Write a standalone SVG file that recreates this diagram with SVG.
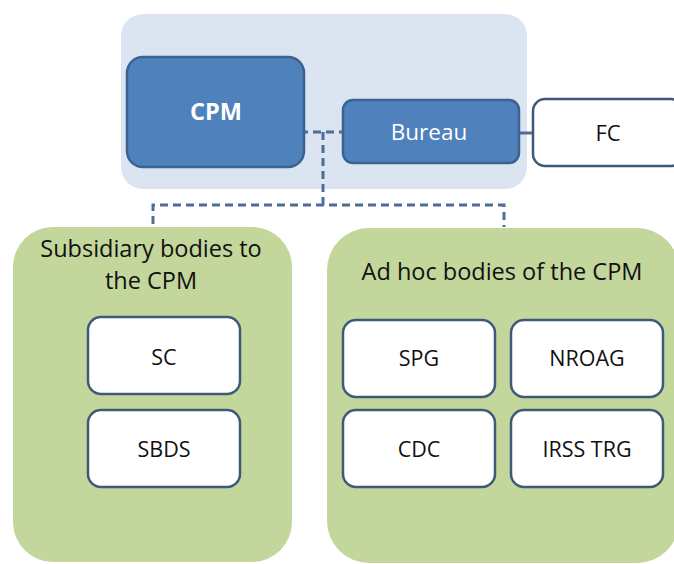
<svg xmlns="http://www.w3.org/2000/svg" width="674" height="564" viewBox="0 0 674 564">
<style>
  text { font-family: "Open Sans", "Liberation Sans", Arial, sans-serif; text-anchor: middle; }
  .blue { fill: #4f81bd; stroke: #3b6290; stroke-width: 2.5; }
  .white { fill: #ffffff; stroke: #3f5a78; stroke-width: 2.5; }
  .green { fill: #c3d69b; }
  .dash { fill: none; stroke: #4d6e96; stroke-width: 3; stroke-dasharray: 8 5; }
  .solid { fill: none; stroke: #4d6e96; stroke-width: 3; }
  .wt { fill: #ffffff; }
  .bt { fill: #111111; }
  .lbl { font-size: 21.5px; }
  .ttl { font-size: 23.5px; }
</style>
<rect width="674" height="564" fill="#ffffff"/>
<g id="container">
  <rect x="121" y="14" width="406" height="175" rx="22" fill="#dbe5f1"/>
</g>
<g id="subsidiary">
  <rect class="green" x="13" y="227" width="279" height="335" rx="40"/>
  <text class="bt ttl" x="151" y="257">Subsidiary bodies to</text>
  <text class="bt ttl" x="151" y="289">the CPM</text>
</g>
<g id="adhoc">
  <rect class="green" x="327" y="228" width="352" height="335" rx="42"/>
  <text class="bt ttl" x="502" y="280">Ad hoc bodies of the CPM</text>
</g>
<g id="connectors">
  <path class="dash" d="M300,132 H343"/>
  <path class="dash" d="M323,132 V205"/>
  <path class="dash" d="M153,224 V205 H504 V227"/>
  <path class="solid" d="M519,133 H533"/>
</g>
<g id="cpm">
  <rect class="blue" x="127" y="57" width="177" height="110" rx="16"/>
  <text class="wt" x="216" y="120" font-size="23.5" font-weight="bold">CPM</text>
</g>
<g id="bureau">
  <rect class="blue" x="343" y="100" width="176" height="63" rx="10"/>
  <text class="wt" x="429" y="140" font-size="22.5">Bureau</text>
</g>
<g id="fc">
  <rect class="white" x="533" y="99" width="150" height="67" rx="12"/>
  <text class="bt" x="608" y="141" font-size="22">FC</text>
</g>
<g id="sc">
  <rect class="white" x="88" y="317" width="152" height="77" rx="13"/>
  <text class="bt lbl" x="164" y="365">SC</text>
</g>
<g id="sbds">
  <rect class="white" x="88" y="410" width="152" height="77" rx="13"/>
  <text class="bt lbl" x="164" y="457">SBDS</text>
</g>
<g id="spg">
  <rect class="white" x="343" y="320" width="152" height="77" rx="13"/>
  <text class="bt lbl" x="419" y="366">SPG</text>
</g>
<g id="nroag">
  <rect class="white" x="511" y="320" width="152" height="77" rx="13"/>
  <text class="bt lbl" x="587" y="366">NROAG</text>
</g>
<g id="cdc">
  <rect class="white" x="343" y="410" width="152" height="77" rx="13"/>
  <text class="bt lbl" x="419" y="457">CDC</text>
</g>
<g id="irsstrg">
  <rect class="white" x="511" y="410" width="152" height="77" rx="13"/>
  <text class="bt lbl" x="587" y="457">IRSS TRG</text>
</g>
</svg>
